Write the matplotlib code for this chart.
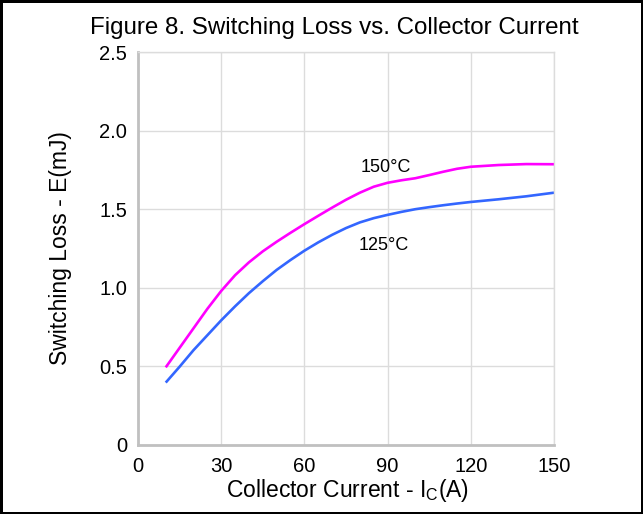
import matplotlib
matplotlib.use("Agg")
import matplotlib.pyplot as plt

plt.rcParams['font.family'] = ['Liberation Sans', 'DejaVu Sans']
plt.rcParams['mathtext.default'] = 'regular'

current = [10, 15, 20, 25, 30, 35, 40, 45, 50, 55, 60, 65, 70, 75, 80, 85, 90, 95,
           100, 105, 110, 115, 120, 130, 140, 150]
loss_150 = [0.494, 0.618, 0.742, 0.866, 0.98, 1.08, 1.162, 1.232, 1.293, 1.35, 1.405,
            1.458, 1.51, 1.56, 1.605, 1.643, 1.668, 1.684, 1.697, 1.717, 1.738, 1.757,
            1.77, 1.781, 1.787, 1.786]
loss_125 = [0.397, 0.498, 0.603, 0.698, 0.793, 0.882, 0.966, 1.042, 1.114, 1.177, 1.236,
            1.289, 1.337, 1.38, 1.416, 1.443, 1.464, 1.483, 1.50, 1.513, 1.525, 1.536,
            1.546, 1.563, 1.582, 1.605]
xticks = [0, 30, 60, 90, 120, 150]
yticks = [0, 0.5, 1.0, 1.5, 2.0, 2.5]
ytick_labels = ['0', '0.5', '1.0', '1.5', '2.0', '2.5']

fig = plt.figure(figsize=(6.43, 5.14), dpi=100, linewidth=2.5, edgecolor='black')
ax = fig.add_axes([138/643, 69/514, 416/643, 393/514])

ax.plot(current, loss_150, color='#ff00ff', lw=1.9, solid_capstyle='butt')
ax.plot(current, loss_125, color='#3366ff', lw=1.9, solid_capstyle='butt')

ax.set_xlim(0, 150)
ax.set_ylim(0, 2.5)
ax.set_xticks(xticks)
ax.set_yticks(yticks)
ax.set_yticklabels(ytick_labels)
ax.grid(True, color='#dcdcdc', lw=1.0)
ax.set_axisbelow(True)
ax.tick_params(length=0, labelsize=14.5, colors='black')
ax.tick_params(axis='y', pad=8)
ax.tick_params(axis='x', pad=9)
for s in ['top', 'right']:
    ax.spines[s].set_color('#dcdcdc')
    ax.spines[s].set_linewidth(1.0)
for s in ['left', 'bottom']:
    ax.spines[s].set_color('#c0c0c0')
    ax.spines[s].set_linewidth(2.0)

ax.text(89.5, 1.764, '150°C', fontsize=13, ha='center', va='center')
ax.text(88.5, 1.268, '125°C', fontsize=13, ha='center', va='center')

fig.text(334/643, 1 - 28/514, 'Figure 8. Switching Loss vs. Collector Current', fontsize=17.4, ha='center', va='center')
fig.text(347.5/643, 1 - 491/514, 'Collector Current - I$_C$(A)', fontsize=16.5, ha='center', va='center')
fig.text(60/643, 1 - 248/514, 'Switching Loss - E(mJ)', fontsize=16.5, ha='center', va='center', rotation=90)

fig.savefig('out.png', dpi=100, edgecolor=fig.get_edgecolor())
